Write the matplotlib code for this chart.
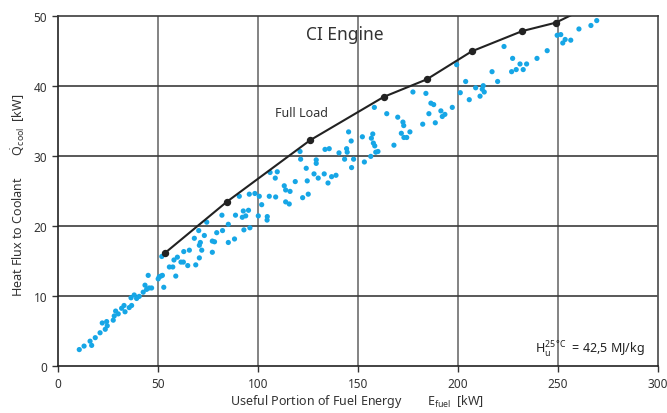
import matplotlib
matplotlib.use("Agg")
import matplotlib.pyplot as plt

plt.rcParams['font.family'] = ['Noto Sans', 'DejaVu Sans']
plt.rcParams['mathtext.fontset'] = 'custom'
plt.rcParams['mathtext.rm'] = 'Noto Sans'
plt.rcParams['mathtext.it'] = 'Noto Sans:italic'
plt.rcParams['mathtext.bf'] = 'Noto Sans:bold'

# ---- data ----
scatter_x = [10.5, 12.9, 15.9, 16.7, 18.5, 20.9, 22.0, 23.5, 24.2, 24.5,
             27.5, 28.0, 28.7, 30.0, 31.7, 32.9, 33.4, 35.5, 36.7, 36.4,
             38.0, 39.2, 40.5, 42.5, 43.4, 44.2, 45.0, 45.5, 46.7, 50.0,
             50.5, 51.4, 52.1, 52.8, 51.8, 55.6, 57.3, 57.9, 58.8, 59.6,
             61.4, 62.6, 62.8, 64.8, 65.6, 68.1, 68.8, 70.3, 70.6, 70.6,
             71.1, 71.8, 73.1, 74.3, 77.1, 77.1, 78.2, 79.3, 81.9, 82.2,
             85.1, 85.1, 88.2, 88.7, 92.1, 92.6, 93.8, 95.2, 92.9, 95.9,
             90.6, 95.6, 98.4, 100.6, 101.8, 100.1, 104.6, 104.5, 105.6, 108.8,
             106.0, 109.6, 108.6, 113.1, 113.8, 116.0, 113.8, 115.6, 118.6, 121.0,
             121.3, 124.1, 124.6, 122.3, 125.1, 128.0, 129.1, 129.1, 130.1, 133.1,
             135.0, 136.8, 139.0, 133.5, 135.6, 140.5, 143.3, 144.3, 144.6, 146.6,
             146.8, 147.8, 145.3, 152.2, 153.2, 156.4, 157.4, 156.7, 157.7, 158.4,
             158.9, 160.0, 158.2, 164.4, 168.0, 169.9, 172.5, 172.9, 171.7, 173.0,
             174.4, 176.0, 177.5, 182.4, 184.0, 185.5, 186.5, 187.9, 188.7, 191.5,
             192.2, 193.5, 197.2, 199.4, 201.2, 203.9, 205.7, 208.9, 211.1, 212.2,
             212.7, 213.2, 217.1, 219.9, 223.1, 226.9, 227.4, 229.2, 231.1, 232.7,
             234.4, 239.6, 244.7, 249.7, 251.5, 252.5, 253.7, 256.5, 260.6, 266.6,
             269.5]
scatter_y = [2.3, 2.8, 3.5, 2.9, 4.0, 4.7, 6.1, 5.2, 6.3, 5.7,
             6.5, 7.1, 7.8, 7.4, 8.2, 8.6, 7.7, 8.3, 8.6, 9.7,
             10.1, 9.6, 9.9, 10.5, 11.5, 10.9, 12.9, 11.1, 11.1, 12.4,
             12.7, 12.8, 12.9, 11.2, 15.6, 14.1, 14.1, 15.1, 12.8, 15.5,
             14.8, 14.8, 16.3, 14.3, 16.5, 18.2, 14.4, 19.3, 15.4, 17.2,
             17.6, 16.5, 18.6, 20.5, 17.8, 16.2, 17.7, 19.0, 21.5, 19.3,
             20.2, 17.6, 18.1, 21.5, 21.2, 22.1, 21.4, 22.2, 19.4, 19.7,
             24.2, 24.5, 24.6, 24.2, 23.0, 21.4, 21.3, 20.8, 24.2, 24.1,
             27.6, 27.7, 26.8, 25.7, 25.1, 24.9, 23.4, 23.1, 26.3, 30.6,
             29.5, 28.2, 26.4, 24.0, 24.5, 27.4, 29.4, 28.9, 26.8, 27.4,
             26.1, 27.0, 27.2, 30.9, 31.0, 30.4, 29.5, 31.0, 30.5, 32.1,
             28.3, 29.5, 33.4, 32.7, 29.1, 29.9, 33.1, 32.5, 31.8, 31.4,
             30.5, 30.6, 36.9, 36.0, 31.5, 35.5, 34.8, 34.3, 33.2, 32.6,
             32.6, 33.4, 39.1, 34.5, 38.9, 36.0, 37.5, 37.3, 34.7, 36.4,
             35.6, 35.9, 36.9, 43.0, 39.0, 40.6, 38.0, 39.7, 38.5, 39.5,
             40.0, 39.1, 42.0, 40.6, 45.6, 42.0, 43.9, 42.3, 43.1, 42.3,
             43.1, 43.9, 45.0, 47.2, 47.3, 46.1, 46.6, 46.5, 48.1, 48.6,
             49.3]

full_load_x = [53.4, 84.3, 126.0, 162.9, 184.4, 206.9, 232.2, 249.0, 264.0]
full_load_y = [16.1, 23.4, 32.2, 38.4, 40.9, 44.9, 47.8, 49.0, 51.1]

x_ticks = [0, 50, 100, 150, 200, 250, 300]
y_ticks = [0, 10, 20, 30, 40, 50]

# ---- figure ----
fig = plt.figure(figsize=(6.67, 4.14), dpi=100)
ax = fig.add_axes([0.0874, 0.1143, 0.8986, 0.8454])

ax.set_xlim(0, 300)
ax.set_ylim(0, 50)
ax.set_xticks(x_ticks)
ax.set_yticks(y_ticks)

# grid
for xv in x_ticks[1:-1]:
    ax.axvline(xv, color='#7a7a7a', lw=1.3, zorder=1)
for yv in y_ticks[1:-1]:
    ax.axhline(yv, color='#3c3c3c', lw=1.2, zorder=1)

for s in ['left', 'bottom']:
    ax.spines[s].set_color('#222222')
    ax.spines[s].set_linewidth(1.2)
ax.spines['top'].set_color('#3c3c3c')
ax.spines['top'].set_linewidth(1.2)
ax.spines['right'].set_color('#555555')
ax.spines['right'].set_linewidth(1.3)

ax.tick_params(direction='out', length=4, width=1.0, color='#333333',
               labelsize=8.5, labelcolor='#333333', pad=4)

ax.scatter(scatter_x, scatter_y, s=14, color='#16a6e6', edgecolors='none', zorder=3)
ax.plot(full_load_x, full_load_y, color='#222222', lw=1.5, marker='o',
        markersize=4.3, zorder=4)

ax.text(143.6, 47.4, 'CI Engine', fontsize=12.5, color='#333333',
        ha='center', va='center')
ax.text(121.7, 36.1, 'Full Load', fontsize=9, color='#333333',
        ha='center', va='center')
ax.text(293.8, 2.4, r'$\mathrm{H}_{\mathrm{u}}^{\mathrm{25\,°C}}$  = 42,5 MJ/kg',
        fontsize=9, color='#222222', ha='right', va='center')

fig.text(0.536, 0.022, r'Useful Portion of Fuel Energy        $\mathrm{E}_{\mathrm{fuel}}$  [kW]',
         fontsize=9, color='#333333', ha='center', va='baseline')
fig.text(0.028, 0.527, r'Heat Flux to Coolant       $\dot{\mathrm{Q}}_{\mathrm{cool}}$  [kW]',
         fontsize=9, color='#333333', ha='center', va='center', rotation=90)

fig.savefig('out.png', dpi=100)
